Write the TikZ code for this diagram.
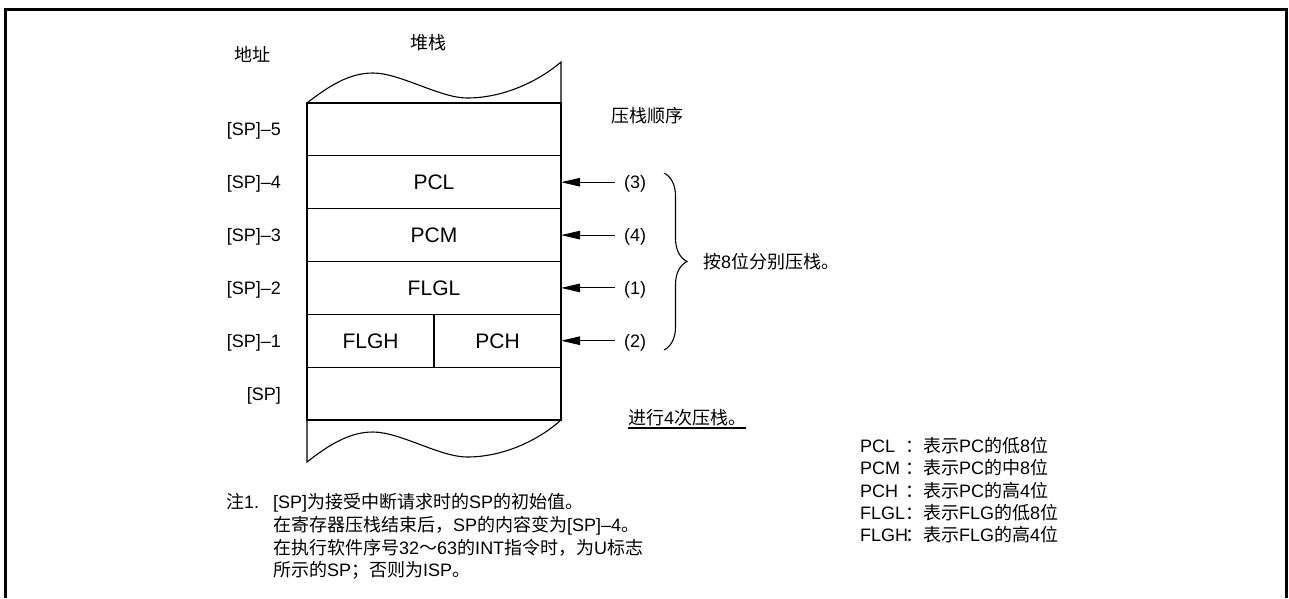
\documentclass[tikz,border=0pt]{standalone}
\usepackage{fontspec}
\setmainfont{Liberation Sans}
\newfontfamily\cjkf{Noto Sans CJK SC}
\newcommand\zh[1]{{\cjkf #1}}
\usetikzlibrary{arrows.meta,decorations.pathreplacing}
\begin{document}
\begin{tikzpicture}[x=1pt,y=-1pt,
  lbl/.style={inner sep=0pt, font=\fontsize{18}{22}\selectfont, text height=13pt, text depth=0pt},
  cell/.style={draw, line width=1.1pt, minimum height=52.8pt, inner sep=0pt, outer sep=0pt,
    font=\fontsize{21}{25}\selectfont, text height=15pt, text depth=0pt},
  wide/.style={cell, minimum width=254pt},
  half/.style={cell, minimum width=127pt},
  thin/.style={line width=1.1pt},
  arr/.style={line width=1.1pt, -{Triangle[length=19pt,width=8.5pt]}}]
\useasboundingbox (0,0) rectangle (1289,598);
% frame
\draw[line width=3pt] (5.5,598) -- (5.5,9.5) -- (1286.5,9.5) -- (1286.5,598);
% stack rows
\node[wide] (r0) at (434,129.4) {};
\node[wide] (r1) at (434,182.2) {PCL};
\node[wide] (r2) at (434,235.1) {PCM};
\node[wide] (r3) at (434,287.9) {FLGL};
\node[half] (r4a) at (370.5,340.7) {FLGH};
\node[half] (r4b) at (497.5,340.7) {PCH};
\node[wide] (r5) at (434,393.6) {};
% torn edges
\draw[thin] (r0.north east) -- (561,62) .. controls (540,80) and (505,98) .. (467,98)
  .. controls (440,98) and (400,73) .. (373,73) .. controls (350,73) and (330,85) .. (r0.north west);
\draw[thin] (r5.south east) .. controls (540,439) and (505,457) .. (467,457)
  .. controls (440,457) and (400,432) .. (373,432) .. controls (350,432) and (330,444) .. (307,462)
  -- (r5.south west);
% headers
\node[lbl] (addr) at (252,55) {\zh{地址}};
\node[lbl] (stk) at (428,43) {\zh{堆栈}};
\node[lbl, anchor=west] (ord) at (611,116) {\zh{压栈顺序}};
% addresses
\node[lbl, anchor=east] (s5) at (281,129.4) {[SP]–5};
\node[lbl, anchor=east] (s4) at (281,182.2) {[SP]–4};
\node[lbl, anchor=east] (s3) at (281,235.1) {[SP]–3};
\node[lbl, anchor=east] (s2) at (281,287.9) {[SP]–2};
\node[lbl, anchor=east] (s1) at (281,340.7) {[SP]–1};
\node[lbl, anchor=east] (s0) at (281,393.6) {[SP]};
% push order arrows
\node[lbl, anchor=west, inner xsep=9pt] (p3) at (615,182.2) {(3)};
\node[lbl, anchor=west, inner xsep=9pt] (p4) at (615,235.1) {(4)};
\node[lbl, anchor=west, inner xsep=9pt] (p1) at (615,287.9) {(1)};
\node[lbl, anchor=west, inner xsep=9pt] (p2) at (615,340.7) {(2)};
\draw[arr] (p3.west) -- (r1.east);
\draw[arr] (p4.west) -- (r2.east);
\draw[arr] (p1.west) -- (r3.east);
\draw[arr] (p2.west) -- (r4b.east);
% brace
\coordinate (bt) at (664,173);
\coordinate (bb) at (664,350);
\draw[thin, decorate, decoration={brace, amplitude=23pt}] (bt) -- (bb);
\node[lbl, anchor=west] (grp) at (703,262) {\zh{按}8\zh{位分别压栈。}};
% four pushes
\node[lbl, anchor=west] (cnt) at (628,418) {\zh{进行}4\zh{次压栈。}};
\coordinate (ul) at (0,428);
\draw[thin] (cnt.west |- ul) -- (cnt.east |- ul);
% legend
\node[lbl, anchor=west] (g1) at (860,446) {\makebox[45pt][l]{PCL}\zh{：表示}PC\zh{的低}8\zh{位}};
\node[lbl, anchor=west] (g2) at (860,468.3) {\makebox[45pt][l]{PCM}\zh{：表示}PC\zh{的中}8\zh{位}};
\node[lbl, anchor=west] (g3) at (860,490.6) {\makebox[45pt][l]{PCH}\zh{：表示}PC\zh{的高}4\zh{位}};
\node[lbl, anchor=west] (g4) at (860,512.9) {\makebox[45pt][l]{FLGL}\zh{：表示}FLG\zh{的低}8\zh{位}};
\node[lbl, anchor=west] (g5) at (860,535.2) {\makebox[45pt][l]{FLGH}\zh{：表示}FLG\zh{的高}4\zh{位}};
% note
\node[lbl, anchor=west] (n0) at (226,502) {\zh{注}1.};
\node[lbl, anchor=west] (n1) at (273,502) {[SP]\zh{为接受中断请求时的}SP\zh{的初始值。}};
\node[lbl, anchor=west] (n2) at (273,525) {\zh{在寄存器压栈结束后，}SP\zh{的内容变为}[SP]–4\zh{。}};
\node[lbl, anchor=west] (n3) at (273,548) {\zh{在执行软件序号}32\zh{～}63\zh{的}INT\zh{指令时，为}U\zh{标志}};
\node[lbl, anchor=west] (n4) at (273,570) {\zh{所示的}SP\zh{；否则为}ISP\zh{。}};
\end{tikzpicture}
\end{document}
